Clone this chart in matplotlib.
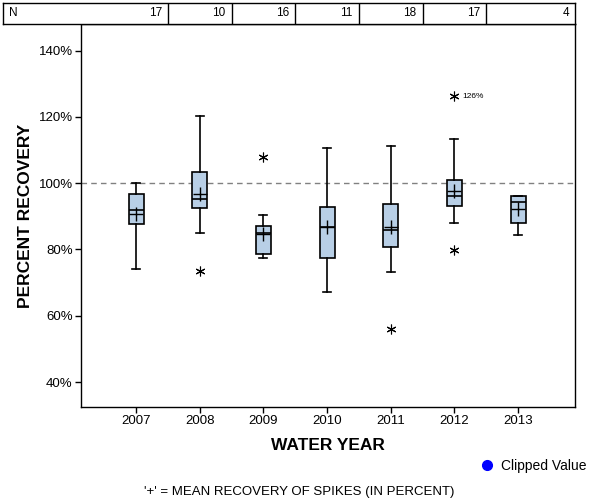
#!/usr/bin/env python3

import matplotlib
matplotlib.use("Agg")
import matplotlib.pyplot as plt
from matplotlib.lines import Line2D

plt.rcParams['font.family'] = ['Liberation Sans', 'DejaVu Sans']

# values (percent recovery)
years = [2007, 2008, 2009, 2010, 2011, 2012, 2013]
n_counts = [17, 10, 16, 11, 18, 17, 4]
whislo = [74.0, 85.1, 77.3, 67.3, 73.1, 88.1, 84.3]
q1 = [87.7, 92.4, 78.7, 77.3, 80.6, 93.0, 88.1]
med = [91.9, 95.1, 84.9, 86.8, 86.0, 96.1, 94.2]
q3 = [96.8, 103.5, 87.2, 92.7, 93.6, 101.1, 96.0]
whishi = [100.0, 120.4, 90.3, 110.6, 111.1, 113.2, 96.0]
means = [90.6, 96.6, 84.8, 86.8, 86.8, 97.6, 92.1]
outliers = [[], [73.4], [107.8], [], [56.0], [126.2, 79.9], []]
labelled_outlier = (2012, 126.2, "126%")

box_color = "#b8cfe6"


def main():
    fig = plt.figure(figsize=(6, 5), dpi=100)

    # main plot area (pixel layout of the reference)
    left, right, bottom, top = 81, 575, 407, 24
    ax = fig.add_axes([left / 600, 1 - bottom / 500,
                       (right - left) / 600, (bottom - top) / 500])

    stats = []
    for i in range(len(years)):
        stats.append(dict(med=med[i], q1=q1[i], q3=q3[i],
                          whislo=whislo[i], whishi=whishi[i],
                          fliers=outliers[i], mean=means[i]))

    ax.bxp(stats, positions=years, widths=0.235, capwidths=0.125,
           patch_artist=True, showmeans=True, showfliers=True,
           boxprops=dict(facecolor=box_color, edgecolor="black", linewidth=1.2),
           medianprops=dict(color="black", linewidth=1.2),
           whiskerprops=dict(color="black", linewidth=1.2),
           capprops=dict(color="black", linewidth=1.2),
           meanprops=dict(marker="+", markeredgecolor="black",
                          markersize=10, markeredgewidth=1.0),
           flierprops=dict(marker=(6, 2, 0), markeredgecolor="black",
                           markersize=7, markeredgewidth=0.8, linestyle="none"))

    ax.axhline(100, color="#808080", linestyle=(0, (4, 3)), linewidth=1, zorder=0)

    yr, val, txt = labelled_outlier
    ax.annotate(txt, (yr, val), xytext=(6, 0), textcoords="offset points",
                fontsize=6, va="center", ha="left")

    xmin, xmax = 2006.135, 2013.895
    ax.set_xlim(xmin, xmax)
    ax.set_ylim(32.5, 148)
    ax.set_xticks(years)
    ax.set_xticklabels([str(y) for y in years])
    ax.set_yticks([40, 60, 80, 100, 120, 140])
    ax.set_yticklabels(["40%", "60%", "80%", "100%", "120%", "140%"])
    ax.tick_params(direction="out", length=4, width=1, labelsize=9.5, pad=2)
    for s in ax.spines.values():
        s.set_linewidth(1)

    ax.set_xlabel("WATER YEAR", fontsize=12.5, fontweight="bold", labelpad=8)
    ax.set_ylabel("PERCENT RECOVERY", fontsize=12.5, fontweight="bold", labelpad=4)

    # N table above the plot
    tleft, ttop, tbottom = 3, 3, 24
    tax = fig.add_axes([tleft / 600, 1 - tbottom / 500,
                        (right - tleft) / 600, (tbottom - ttop) / 500])
    px_per_year = (right - left) / (xmax - xmin)
    tx0 = xmin - (left - tleft) / px_per_year
    tax.set_xlim(tx0, xmax)
    tax.set_ylim(0, 1)
    tax.set_xticks([])
    tax.set_yticks([])
    for s in tax.spines.values():
        s.set_linewidth(1)
    for y in years[:-1]:
        tax.axvline(y + 0.5, color="black", linewidth=1)
    edges = [y + 0.5 for y in years[:-1]] + [xmax]
    off = 6 / px_per_year
    for e, n in zip(edges, n_counts):
        tax.text(e - off, 0.5, str(n), ha="right", va="center", fontsize=8.5)
    tax.text(tx0 + 6 / px_per_year, 0.5, "N", ha="left", va="center", fontsize=8.5)

    # legend and footnote
    handle = Line2D([], [], marker="o", color="blue", linestyle="none", markersize=7)
    fig.legend(handles=[handle], labels=["Clipped Value"], loc="center left",
               bbox_to_anchor=(473 / 600, 1 - 466 / 500), frameon=False,
               fontsize=10, handletextpad=0.4, borderaxespad=0, handlelength=1.2)
    fig.text(0.498, 1 - 492 / 500, "'+' = MEAN RECOVERY OF SPIKES (IN PERCENT)",
             ha="center", va="center", fontsize=9.5)

    fig.savefig("out.png", dpi=100)


if __name__ == "__main__":
    main()
